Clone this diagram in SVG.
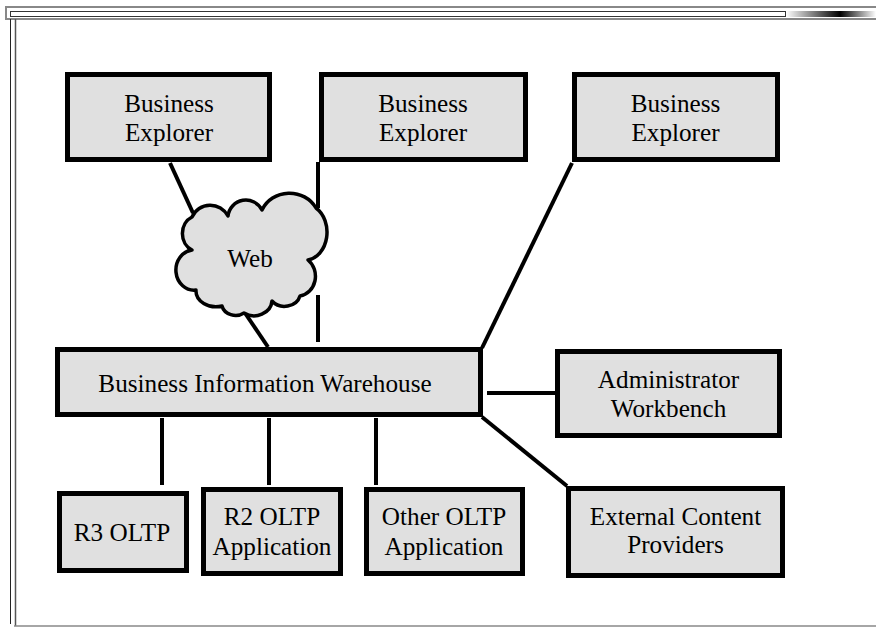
<svg xmlns="http://www.w3.org/2000/svg" width="876" height="628" viewBox="0 0 876 628">
<style>
.box{fill:#e0e0e0;stroke:#000;stroke-width:5}
.cloud{fill:#e0e0e0;stroke:#000;stroke-width:3.5;stroke-linejoin:round}
.lbl{font-family:"Liberation Serif","Times New Roman",serif;font-size:25.2px;fill:#000;text-anchor:middle}
.conn line{stroke:#000;stroke-width:4;stroke-linecap:butt}
</style>
<defs>
<linearGradient id="g" x1="0" y1="0" x2="1" y2="0">
<stop offset="0" stop-color="#fff"/><stop offset="0.6" stop-color="#000"/><stop offset="1" stop-color="#fff"/>
</linearGradient>
</defs>
<rect width="876" height="628" fill="#fff"/>
<g id="frame">
<rect x="6" y="7" width="872" height="12" fill="#fff" stroke="#888" stroke-width="2"/>
<rect x="10.5" y="11.5" width="775" height="5" fill="#fff" stroke="#333" stroke-width="1"/>
<rect x="786" y="11" width="90" height="6" fill="url(#g)"/>
<line x1="10.5" y1="19" x2="10.5" y2="624" stroke="#222" stroke-width="1"/>
<line x1="15.5" y1="19" x2="15.5" y2="626" stroke="#555" stroke-width="1.5"/>
<line x1="14" y1="626" x2="876" y2="626" stroke="#888" stroke-width="1.5"/>
</g>
<g id="connectors" class="conn">
<line x1="170" y1="163" x2="193" y2="213"/>
<line x1="318" y1="162" x2="318" y2="208"/>
<line x1="318" y1="295" x2="318" y2="342"/>
<line x1="245" y1="313" x2="268" y2="347"/>
<line x1="572" y1="163" x2="482" y2="348"/>
<line x1="487" y1="393" x2="555" y2="393"/>
<line x1="482" y1="417" x2="567" y2="486"/>
<line x1="162" y1="418" x2="162" y2="485"/>
<line x1="269" y1="418" x2="269" y2="485"/>
<line x1="376" y1="418" x2="376" y2="485"/>
</g>
<g id="web">
<path class="cloud" d="M192,217 A20,20 0 0 1 228,216 A18,18 0 0 1 262,210 A30,28 0 0 1 316,208 A22,28 0 0 1 308,260 A18,20 0 0 1 300,296 A16,14 0 0 1 272,301 A18,16 0 0 1 244,313 A14,12 0 0 1 222,306 A20,16 0 0 1 196,290 A18,20 0 0 1 192,250 A16,18 0 0 1 192,217 Z"/>
<text class="lbl" x="250" y="267">Web</text>
</g>
<g id="be1">
<rect class="box" x="67.5" y="74.5" width="202" height="85"/>
<text class="lbl" x="169" y="112">Business</text>
<text class="lbl" x="169" y="141">Explorer</text>
</g>
<g id="be2">
<rect class="box" x="321.5" y="74.5" width="204" height="85"/>
<text class="lbl" x="423" y="112">Business</text>
<text class="lbl" x="423" y="141">Explorer</text>
</g>
<g id="be3">
<rect class="box" x="574.5" y="74.5" width="203" height="85"/>
<text class="lbl" x="675.5" y="112">Business</text>
<text class="lbl" x="675.5" y="141">Explorer</text>
</g>
<g id="biw">
<rect class="box" x="57.5" y="349.5" width="423" height="65"/>
<text class="lbl" x="265" y="392">Business Information Warehouse</text>
</g>
<g id="aw">
<rect class="box" x="557.5" y="351.5" width="222" height="84"/>
<text class="lbl" x="668.5" y="388">Administrator</text>
<text class="lbl" x="668.5" y="417">Workbench</text>
</g>
<g id="ecp">
<rect class="box" x="568.5" y="488.5" width="214" height="87"/>
<text class="lbl" x="675.5" y="525">External Content</text>
<text class="lbl" x="675.5" y="553">Providers</text>
</g>
<g id="r3">
<rect class="box" x="59.5" y="493.5" width="127" height="77"/>
<text class="lbl" x="122" y="541">R3 OLTP</text>
</g>
<g id="r2">
<rect class="box" x="203.5" y="489.5" width="137" height="84"/>
<text class="lbl" x="272" y="525">R2 OLTP</text>
<text class="lbl" x="272" y="555">Application</text>
</g>
<g id="other">
<rect class="box" x="366.5" y="489.5" width="156" height="84"/>
<text class="lbl" x="444" y="525">Other OLTP</text>
<text class="lbl" x="444" y="555">Application</text>
</g>
</svg>
